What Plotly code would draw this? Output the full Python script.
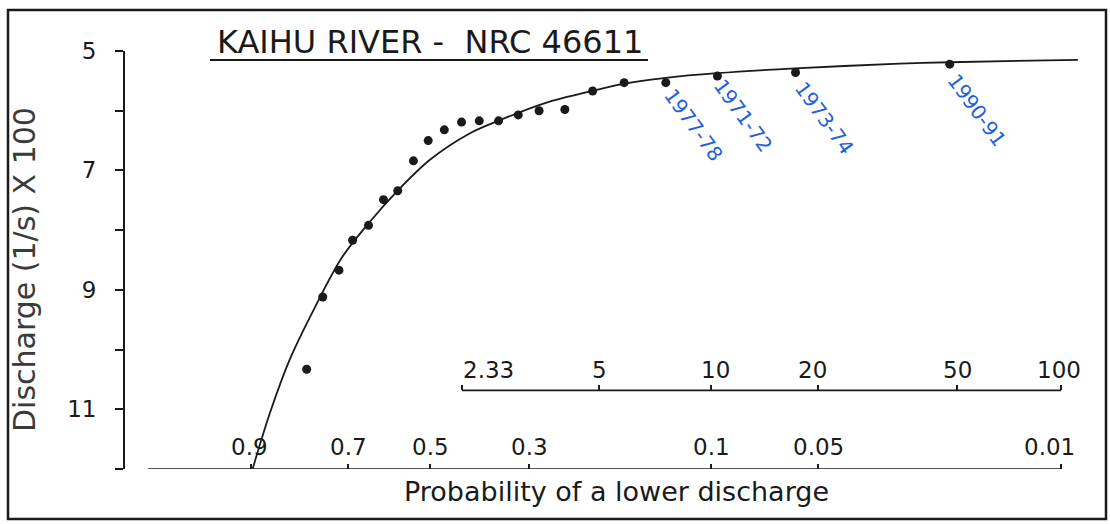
import numpy as np
import plotly.graph_objects as go

# ---------------- data ----------------
# observed annual minimum discharges (l/s x 100) and their probability of a lower discharge
obs_prob = [0.796, 0.760, 0.722, 0.689, 0.650, 0.613, 0.578, 0.540, 0.505, 0.468, 0.430,
            0.393, 0.355, 0.319, 0.284, 0.245, 0.208, 0.172, 0.133, 0.096, 0.058, 0.021]
obs_discharge = [10.33, 9.12, 8.67, 8.17, 7.92, 7.49, 7.34, 6.84, 6.50, 6.32, 6.19,
                 6.17, 6.17, 6.07, 6.00, 5.98, 5.67, 5.53, 5.53, 5.42, 5.36, 5.22]

# fitted frequency curve
curve_prob = [0.898, 0.869, 0.831, 0.7775, 0.715, 0.646, 0.578, 0.501, 0.412, 0.355,
              0.2746, 0.208, 0.172, 0.1328, 0.0963, 0.0582, 0.0292, 0.0210, 0.00894]
curve_discharge = [11.99, 11.055, 10.155, 9.288, 8.46, 7.855, 7.338, 6.822, 6.377, 6.167,
                   5.872, 5.667, 5.547, 5.45, 5.372, 5.29, 5.213, 5.188, 5.147]

# handwritten year labels attached to observed points (index into obs arrays)
year_labels = ["1977-78", "1971-72", "1973-74", "1990-91"]
year_label_index = [18, 19, 20, 21]

# axis ticks
prob_ticks = [0.9, 0.7, 0.5, 0.3, 0.1, 0.05, 0.01]
prob_tick_text = ["0.9", "0.7", "0.5", "0.3", "0.1", "0.05", "0.01"]
return_periods = [2.33, 5, 10, 20, 50, 100]
return_tick_text = ["2.33", "5", "10", "20", "50", "100"]
discharge_ticks = [5, 6, 7, 8, 9, 10, 11, 12]
discharge_tick_text = ["5", "", "7", "", "9", "", "11", ""]


def gumbel(p):
    """Gumbel reduced variate for a probability of a lower discharge."""
    p = np.asarray(p, dtype=float)
    return -np.log(-np.log(1.0 - p))


# ---------------- layout geometry ----------------
W, H = 1110, 524
ML, MR, MT, MB = 125, 30, 51, 55
PW, PH = W - ML - MR, H - MT - MB
X_RANGE = [-1.683, 4.727]
Y_RANGE = [12, 5]
RETURN_LEVEL = 10.683  # discharge level at which the return-period scale is drawn


def px_x(px):
    return (px - ML) / PW


def px_y(py):
    return (H - MB - py) / PH


INK = "#1a1a1a"
BLUE = "#1c60e0"
FONT = "DejaVu Sans"

fig = go.Figure()

fig.add_trace(go.Scatter(
    x=gumbel(curve_prob), y=curve_discharge, mode="lines",
    line=dict(color=INK, width=1.8, shape="spline", smoothing=0.9),
    hoverinfo="skip", showlegend=False))

fig.add_trace(go.Scatter(
    x=gumbel(obs_prob), y=obs_discharge, mode="markers",
    marker=dict(color=INK, size=9), showlegend=False))

annotations = []

# title
annotations.append(dict(
    text="KAIHU RIVER -  NRC 46611", xref="paper", yref="paper",
    x=px_x(430), y=px_y(42), xanchor="center", yanchor="middle", showarrow=False,
    font=dict(family=FONT, size=32, color=INK)))

# y title
annotations.append(dict(
    text="Discharge (1/s) X 100", xref="paper", yref="paper",
    x=px_x(24), y=px_y(270), xanchor="center", yanchor="middle", showarrow=False,
    textangle=-90, font=dict(family=FONT, size=30, color="#3a3a3a")))

# x title
annotations.append(dict(
    text="Probability of a lower discharge", xref="paper", yref="paper",
    x=px_x(616), y=px_y(491), xanchor="center", yanchor="middle", showarrow=False,
    font=dict(family=FONT, size=27, color=INK)))

# probability labels
prob_shift = [-2, 0, 0, 0, 0, 0, -12]
for p, t, s in zip(prob_ticks, prob_tick_text, prob_shift):
    annotations.append(dict(
        text=t, x=float(gumbel(p)), y=Y_RANGE[0], xref="x", yref="y",
        xanchor="center", yanchor="middle", yshift=22, xshift=s, showarrow=False,
        font=dict(family=FONT, size=23, color=INK)))

# return-period labels
ret_shift = [27, 0, 4, -6, 0, -2]
for T, t, s in zip(return_periods, return_tick_text, ret_shift):
    annotations.append(dict(
        text=t, x=float(gumbel(1.0 / T)), y=RETURN_LEVEL, xref="x", yref="y",
        xanchor="center", yanchor="middle", yshift=20, xshift=s, showarrow=False,
        font=dict(family=FONT, size=23, color=INK)))

# handwritten year labels
year_shift = [(28, -42), (26, -40), (29, -45), (27, -46)]
for lab, i, (dx, dy) in zip(year_labels, year_label_index, year_shift):
    annotations.append(dict(
        text=lab, x=float(gumbel(obs_prob[i])), y=obs_discharge[i], xref="x", yref="y",
        xanchor="center", yanchor="middle", xshift=dx, yshift=dy, showarrow=False,
        textangle=54, font=dict(family=FONT, size=20, color=BLUE)))

shapes = [
    # outer border of the figure
    dict(type="rect", xref="paper", yref="paper", x0=px_x(8), x1=px_x(1106),
         y0=px_y(519), y1=px_y(10), line=dict(color=INK, width=2.5)),
    # title underline
    dict(type="line", xref="paper", yref="paper", x0=px_x(210), x1=px_x(648),
         y0=px_y(60), y1=px_y(60), line=dict(color=INK, width=2)),
    # probability axis line
    dict(type="line", xref="x", yref="y", x0=float(gumbel(0.99)), x1=float(gumbel(0.01)),
         y0=Y_RANGE[0], y1=Y_RANGE[0], line=dict(color=INK, width=1.6)),
    # return-period axis line
    dict(type="line", xref="x", yref="y", x0=float(gumbel(1 / return_periods[0])),
         x1=float(gumbel(1 / return_periods[-1])), y0=RETURN_LEVEL, y1=RETURN_LEVEL,
         line=dict(color=INK, width=1.6)),
]

fig.update_layout(
    width=W, height=H,
    margin=dict(l=ML, r=MR, t=MT, b=MB, autoexpand=False),
    paper_bgcolor="white", plot_bgcolor="white",
    showlegend=False,
    annotations=annotations, shapes=shapes,
    xaxis=dict(range=X_RANGE, showgrid=False, zeroline=False, showline=False,
               tickvals=list(gumbel(prob_ticks)), showticklabels=False,
               ticks="inside", ticklen=5, tickwidth=1.5, tickcolor=INK, fixedrange=True),
    xaxis2=dict(range=X_RANGE, overlaying="x", anchor="free",
                position=(Y_RANGE[0] - RETURN_LEVEL) / (Y_RANGE[0] - Y_RANGE[1]),
                side="bottom", showgrid=False, zeroline=False, showline=False,
                tickvals=list(gumbel(1.0 / np.array(return_periods))), showticklabels=False,
                ticks="inside", ticklen=5, tickwidth=1.5, tickcolor=INK, fixedrange=True),
    yaxis=dict(range=Y_RANGE, showgrid=False, zeroline=False, showline=True,
               linecolor=INK, linewidth=1.8, tickvals=discharge_ticks,
               ticktext=discharge_tick_text, ticks="outside", ticklen=8, tickwidth=1.5,
               tickcolor=INK, ticklabelstandoff=14,
               tickfont=dict(family=FONT, size=23, color=INK), fixedrange=True),
)

# invisible anchor trace so the return-period axis (xaxis2) is rendered
fig.add_trace(go.Scatter(x=[X_RANGE[0]], y=[Y_RANGE[1]], xaxis="x2", mode="markers",
                         marker=dict(opacity=0), hoverinfo="skip", showlegend=False))

fig.write_html("out.html")
